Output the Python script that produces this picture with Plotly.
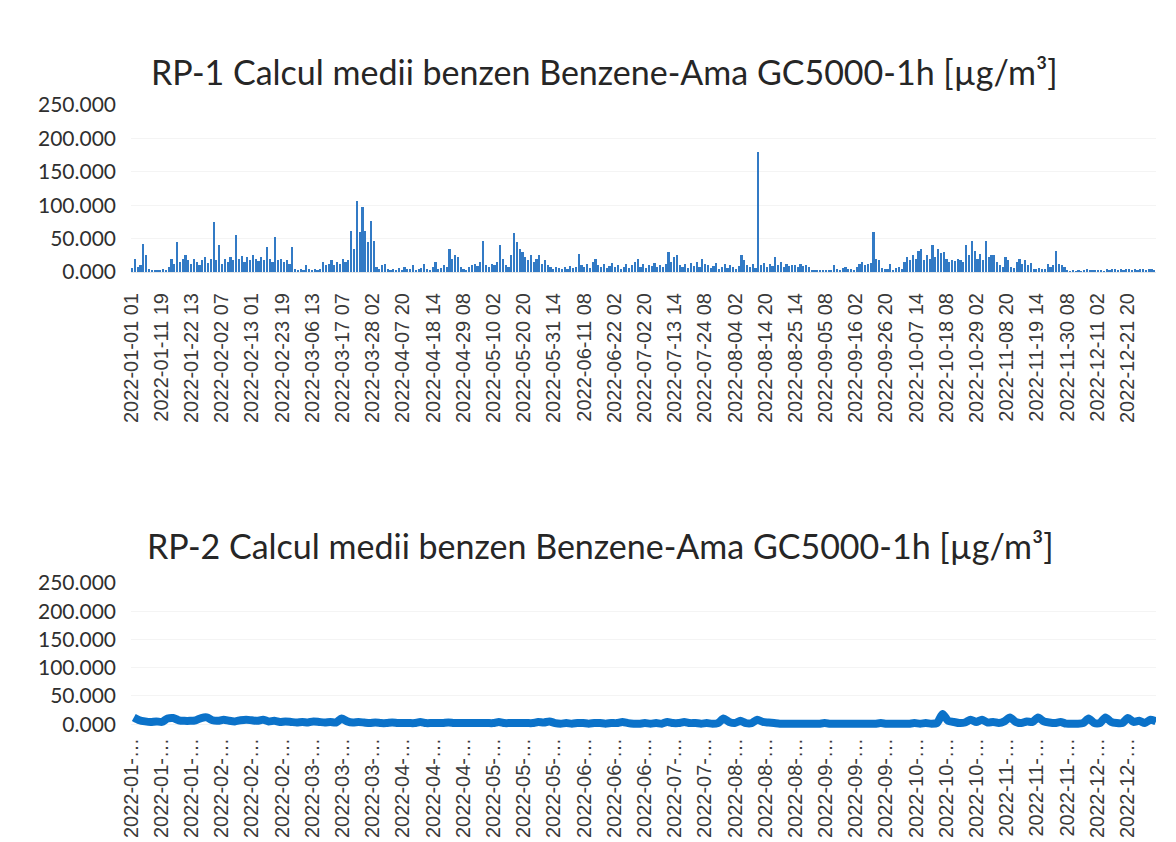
import pandas as pd
from plotly.subplots import make_subplots
from plotly.graph_objects import Bar, Scatter

# RP-1: daily peak of the hourly benzene values, Jan 1 .. Dec 31 2022
rp1_values = [
    6, 20, 8, 10, 42, 25, 5, 3, 2, 3,
    2, 4, 3, 8, 20, 12, 45, 15, 20, 25,
    18, 12, 20, 15, 10, 18, 22, 14, 20, 75,
    18, 40, 12, 20, 15, 22, 18, 55, 20, 24,
    15, 22, 18, 25, 20, 16, 22, 18, 37, 20,
    15, 52, 18, 20, 15, 18, 12, 37, 4, 3,
    5, 3, 10, 4, 2, 5, 3, 4, 15, 10,
    12, 18, 10, 15, 12, 20, 15, 18, 62, 35,
    107, 60, 97, 62, 45, 77, 47, 8, 5, 10,
    12, 5, 3, 4, 2, 6, 3, 8, 4, 5,
    10, 3, 4, 6, 12, 5, 3, 8, 15, 4,
    6, 10, 8, 35, 20, 25, 22, 8, 5, 3,
    8, 10, 12, 9, 15, 47, 10, 8, 12, 10,
    15, 40, 20, 10, 8, 25, 58, 45, 35, 30,
    22, 18, 25, 15, 20, 25, 12, 18, 10, 8,
    5, 8, 6, 4, 7, 5, 9, 6, 8, 27,
    10, 8, 12, 6, 15, 20, 10, 8, 12, 6,
    9, 14, 7, 10, 5, 8, 12, 6, 10, 15,
    20, 8, 12, 6, 10, 9, 14, 7, 11, 8,
    12, 30, 15, 22, 25, 10, 8, 12, 6, 14,
    9, 15, 8, 20, 12, 10, 6, 9, 14, 5,
    8, 12, 6, 10, 7, 5, 9, 25, 18, 10,
    8, 12, 6, 180, 10, 14, 8, 12, 9, 22,
    10, 15, 8, 12, 9, 11, 10, 8, 12, 9,
    10, 8, 3, 2, 3, 2, 2, 3, 2, 3,
    10, 4, 3, 6, 8, 4, 5, 3, 7, 12,
    15, 10, 12, 14, 60, 20, 18, 6, 4, 5,
    12, 3, 6, 8, 4, 15, 22, 18, 25, 20,
    32, 35, 18, 25, 20, 40, 22, 35, 28, 30,
    20, 15, 18, 16, 20, 18, 15, 40, 25, 47,
    32, 20, 27, 18, 46, 22, 25, 25, 15, 10,
    8, 22, 18, 8, 6, 15, 20, 12, 18, 10,
    14, 5, 4, 6, 5, 4, 12, 8, 10, 32,
    12, 10, 8, 2, 1, 2, 1, 2, 1, 2,
    5, 3, 2, 2, 3, 2, 1, 4, 3, 5,
    4, 3, 5, 3, 4, 5, 3, 4, 3, 5,
    4, 3, 4, 5, 3,
]

# RP-2: two-day averages
rp2_values = [
    12, 7, 5, 4, 5, 4, 10, 11, 7, 6,
    6, 7, 11, 12, 7, 6, 8, 6, 5, 7,
    8, 7, 6, 8, 5, 6, 4, 5, 4, 3,
    4, 3, 5, 4, 3, 4, 3, 10, 5, 3,
    4, 3, 2, 3, 2, 2, 3, 2, 2, 2,
    2, 4, 2, 2, 2, 2, 3, 2, 2, 2,
    2, 2, 2, 2, 2, 4, 2, 2, 2, 2,
    2, 2, 4, 3, 5, 2, 1, 2, 1, 2,
    2, 1, 2, 2, 1, 2, 2, 4, 2, 1,
    1, 2, 1, 2, 1, 4, 2, 2, 4, 2,
    2, 1, 2, 1, 2, 10, 4, 2, 6, 2,
    2, 8, 4, 3, 2, 1, 1, 1, 1, 1,
    1, 1, 1, 2, 1, 1, 1, 1, 1, 1,
    1, 1, 1, 2, 1, 1, 1, 1, 1, 2,
    1, 2, 1, 2, 18, 6, 4, 2, 3, 8,
    4, 8, 3, 4, 2, 5, 12, 4, 2, 5,
    4, 12, 5, 3, 2, 4, 1, 1, 1, 2,
    10, 2, 2, 12, 4, 2, 2, 11, 4, 6,
    2, 8, 5,
]

rp1_ticks = [
    "2022-01-01 01", "2022-01-11 19", "2022-01-22 13", "2022-02-02 07",
    "2022-02-13 01", "2022-02-23 19", "2022-03-06 13", "2022-03-17 07",
    "2022-03-28 02", "2022-04-07 20", "2022-04-18 14", "2022-04-29 08",
    "2022-05-10 02", "2022-05-20 20", "2022-05-31 14", "2022-06-11 08",
    "2022-06-22 02", "2022-07-02 20", "2022-07-13 14", "2022-07-24 08",
    "2022-08-04 02", "2022-08-14 20", "2022-08-25 14", "2022-09-05 08",
    "2022-09-16 02", "2022-09-26 20", "2022-10-07 14", "2022-10-18 08",
    "2022-10-29 02", "2022-11-08 20", "2022-11-19 14", "2022-11-30 08",
    "2022-12-11 02", "2022-12-21 20",
]

rp2_tick_months = [
    "01", "01", "01", "02", "02", "02", "03", "03", "03", "04", "04", "04",
    "05", "05", "05", "06", "06", "06", "07", "07", "08", "08", "08",
    "09", "09", "09", "10", "10", "10", "11", "11", "11", "12", "12",
]

rp1_days = pd.date_range("2022-01-01 12:00", periods=len(rp1_values), freq="D")
rp2_days = pd.date_range("2022-01-02 00:00", periods=len(rp2_values), freq="2D")
tick_pos = [t + ":00" for t in rp1_ticks]
rp2_ticktext = ["2022-" + m + "-\u2026" for m in rp2_tick_months]

# the page body keeps an 8px margin, so the figure is 8px smaller
W = 1168
H = 834

fig = make_subplots(rows=2, cols=1)

fig.add_trace(
    Bar(
        x=rp1_days,
        y=rp1_values,
        width=0.6 * 86400000,
        marker=dict(color="#1c6cbf", line_width=0),
        opacity=0.9,
        name="RP-1",
    ),
    row=1,
    col=1,
)

fig.add_trace(
    Scatter(
        x=rp2_days,
        y=rp2_values,
        mode="lines",
        line=dict(color="#0b72c9", width=8, shape="spline", smoothing=0.6),
        name="RP-2",
    ),
    row=2,
    col=1,
)

xdom = [123 / W, 1148 / W]
xrange = ["2022-01-01 00:00", "2022-12-31 23:59"]

fig.update_xaxes(
    range=xrange,
    domain=xdom,
    automargin=False,
    tickmode="array",
    tickvals=tick_pos,
    tickangle=-90,
    showgrid=False,
    zeroline=False,
    tickfont=dict(family="Liberation Sans, Arial", size=20, color="#3a3a3a"),
)
fig.update_xaxes(ticktext=rp1_ticks, showline=True, linecolor="#e6e6e6",
                 ticklabelstandoff=12, row=1, col=1)
fig.update_xaxes(ticktext=rp2_ticktext, showline=False,
                 ticklabelstandoff=2, row=2, col=1)

fig.update_yaxes(
    automargin=False,
    tickmode="array",
    tickvals=[0, 50, 100, 150, 200, 250],
    tickformat=".3f",
    showgrid=True,
    gridcolor="#f4f4f4",
    zeroline=False,
    tickfont=dict(family="Lato, Noto Sans", size=21, color="#2f2f2f"),
    ticklabelstandoff=14,
)
fig.update_yaxes(range=[0, 250], domain=[1 - 264 / H, 1 - 97 / H], row=1, col=1)
fig.update_yaxes(range=[-12, 250], domain=[1 - 723 / H, 1 - 575 / H], row=2, col=1)

title_font = dict(family="Lato, Noto Sans", size=34, color="#262626")
fig.add_annotation(
    text="RP-1 Calcul medii benzen Benzene-Ama GC5000-1h [µg/m³]",
    xref="paper", yref="paper", x=596 / W, y=1 - 64 / H,
    xanchor="center", yanchor="middle",
    showarrow=False, font=title_font,
)
fig.add_annotation(
    text="RP-2 Calcul medii benzen Benzene-Ama GC5000-1h [µg/m³]",
    xref="paper", yref="paper", x=592 / W, y=1 - 537 / H,
    xanchor="center", yanchor="middle",
    showarrow=False, font=title_font,
)

fig.update_layout(
    width=W,
    height=H,
    margin=dict(l=0, r=0, t=0, b=0),
    plot_bgcolor="white",
    paper_bgcolor="white",
    showlegend=False,
    bargap=0,
)

fig.write_html("out.html")
